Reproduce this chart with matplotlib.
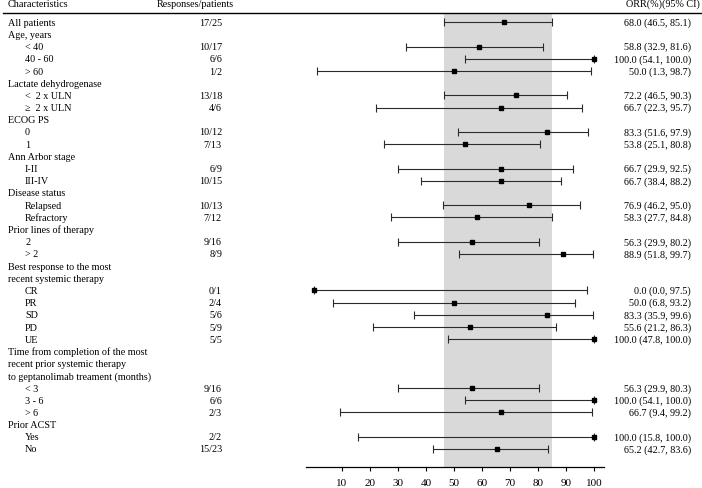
import numpy as np
import matplotlib
matplotlib.use("Agg")
import matplotlib.pyplot as plt
from matplotlib.lines import Line2D
import matplotlib.transforms as mtransforms

nan = np.nan

# Rows of the forest plot
labels = ["All patients", "Age, years", "< 40", "40 - 60", "> 60",
          "Lactate dehydrogenase", "<  2 x ULN", "\u2265  2 x ULN",
          "ECOG PS", "0", "1",
          "Ann Arbor stage", "I-II", "III-IV",
          "Disease status", "Relapsed", "Refractory",
          "Prior lines of therapy", "2", "> 2",
          "Best response to the most", "recent systemic therapy",
          "CR", "PR", "SD", "PD", "UE",
          "Time from completion of the most", "recent prior systemic therapy",
          "to geptanolimab treament (months)",
          "< 3", "3 - 6", "> 6",
          "Prior ACST", "Yes", "No"]
indent = [0, 0, 1, 1, 1, 0, 1, 1, 0, 1, 1, 0, 1, 1, 0, 1, 1, 0, 1, 1,
          0, 0, 1, 1, 1, 1, 1, 0, 0, 0, 1, 1, 1, 0, 1, 1]
responses = ["17/25", "", "10/17", "6/6", "1/2", "", "13/18", "4/6", "", "10/12", "7/13",
             "", "6/9", "10/15", "", "10/13", "7/12", "", "9/16", "8/9", "", "",
             "0/1", "2/4", "5/6", "5/9", "5/5", "", "", "", "9/16", "6/6", "2/3",
             "", "2/2", "15/23"]
orr = [68.0, nan, 58.8, 100.0, 50.0, nan, 72.2, 66.7, nan, 83.3, 53.8,
       nan, 66.7, 66.7, nan, 76.9, 58.3, nan, 56.3, 88.9, nan, nan,
       0.0, 50.0, 83.3, 55.6, 100.0, nan, nan, nan, 56.3, 100.0, 66.7,
       nan, 100.0, 65.2]
ci_lo = [46.5, nan, 32.9, 54.1, 1.3, nan, 46.5, 22.3, nan, 51.6, 25.1,
         nan, 29.9, 38.4, nan, 46.2, 27.7, nan, 29.9, 51.8, nan, nan,
         0.0, 6.8, 35.9, 21.2, 47.8, nan, nan, nan, 29.9, 54.1, 9.4,
         nan, 15.8, 42.7]
ci_hi = [85.1, nan, 81.6, 100.0, 98.7, nan, 90.3, 95.7, nan, 97.9, 80.8,
         nan, 92.5, 88.2, nan, 95.0, 84.8, nan, 80.2, 99.7, nan, nan,
         97.5, 93.2, 99.6, 86.3, 100.0, nan, nan, nan, 80.3, 100.0, 99.2,
         nan, 100.0, 83.6]
xticks = [10, 20, 30, 40, 50, 60, 70, 80, 90, 100]

plt.rcParams['font.family'] = ['Liberation Serif', 'DejaVu Serif']
fs = 7.3

W, H = 702, 489
fig = plt.figure(figsize=(W / 100, H / 100), dpi=100)

# forest axes placed by pixel geometry
x0_px, x1_px = 306.0, 604.1
y_top_px, y_bot_px = 14.0, 468.0
ax = fig.add_axes([x0_px / W, 1 - y_bot_px / H, (x1_px - x0_px) / W, (y_bot_px - y_top_px) / H])
ax.set_xlim(-2.7, 103.5)
ax.set_ylim(36.48, -0.76)

ax.axvspan(ci_lo[0], ci_hi[0], color='#d9d9d9', lw=0, zorder=0)

rows = np.arange(len(labels))
orr_a = np.array(orr)
lo_a = np.array(ci_lo)
hi_a = np.array(ci_hi)
m = ~np.isnan(orr_a)
ax.errorbar(orr_a[m], rows[m], xerr=[orr_a[m] - lo_a[m], hi_a[m] - orr_a[m]],
            fmt='s', color='black', ecolor='#2a2a2a', ms=3.3, capsize=2.7,
            elinewidth=0.8, capthick=0.8, zorder=3)

for s in ['left', 'top', 'right']:
    ax.spines[s].set_visible(False)
ax.spines['bottom'].set_linewidth(0.9)
ax.set_yticks([])
ax.set_xticks(xticks)
ax.tick_params(axis='x', direction='out', length=3, width=0.8, labelsize=8, pad=5)

# text columns: figure x, data y
trans = mtransforms.blended_transform_factory(fig.transFigure, ax.transData)
for i, lab in enumerate(labels):
    x = 25 if indent[i] else 8
    ax.text(x / W, i, lab, transform=trans, ha='left', va='center', fontsize=fs)
    if responses[i]:
        ax.text(222 / W, i, responses[i], transform=trans, ha='right', va='center', fontsize=fs)
    if not np.isnan(orr[i]):
        ax.text(691 / W, i, f"{orr[i]:.1f} ({ci_lo[i]:.1f}, {ci_hi[i]:.1f})",
                transform=trans, ha='right', va='center', fontsize=fs)

# header
hy = 1 - 4.5 / H
fig.text(8 / W, hy, "Characteristics", ha='left', va='center', fontsize=fs)
fig.text(195 / W, hy, "Responses/patients", ha='center', va='center', fontsize=fs)
fig.text(700 / W, hy, "ORR(%)(95% CI)", ha='right', va='center', fontsize=fs)
fig.add_artist(Line2D([3 / W, 1.0], [1 - 13.5 / H, 1 - 13.5 / H], color='black', lw=1.0,
                      transform=fig.transFigure))

fig.savefig("out.png", dpi=100)
